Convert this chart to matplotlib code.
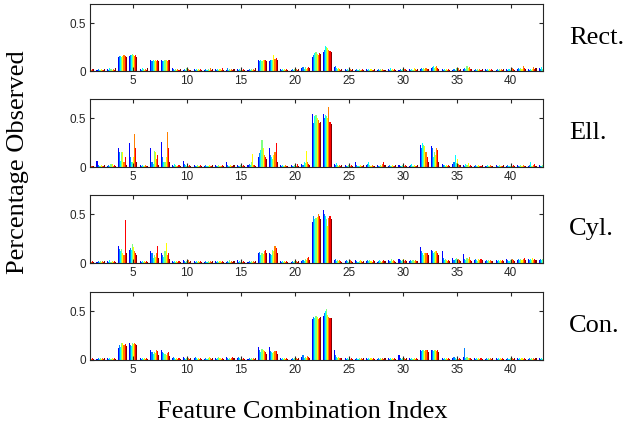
import numpy as np
import matplotlib
matplotlib.use('Agg')
import matplotlib.pyplot as plt

# Feature combination indices (1..43), 8 subjects per group
indices = list(range(1, 44))
shape_names = ['Rect.', 'Ell.', 'Cyl.', 'Con.']
xtick_vals = [5, 10, 15, 20, 25, 30, 35, 40]

# values in percent-hundredths (0.01 units), one row per feature combination index
rect = [
    [2, 1, 2, 1, 2, 1, 2, 2], [1, 2, 1, 1, 2, 1, 1, 2], [2, 1, 3, 2, 1, 2, 1, 3],
    [15, 16, 16, 15, 16, 17, 16, 15], [16, 17, 17, 18, 17, 16, 17, 15], [2, 1, 3, 2, 1, 2, 1, 3],
    [11, 10, 11, 10, 11, 10, 11, 10], [11, 10, 10, 11, 12, 10, 11, 12], [3, 2, 1, 2, 1, 2, 1, 2],
    [1, 2, 1, 3, 1, 2, 1, 1], [2, 1, 2, 1, 2, 1, 2, 1], [1, 2, 1, 2, 1, 3, 1, 2],
    [2, 1, 2, 1, 2, 1, 3, 1], [1, 3, 1, 2, 1, 2, 1, 2], [2, 1, 2, 1, 2, 1, 2, 1],
    [1, 2, 1, 2, 1, 2, 1, 3], [11, 10, 11, 10, 12, 11, 12, 10], [10, 11, 12, 11, 17, 13, 14, 12],
    [2, 1, 2, 1, 2, 1, 2, 1], [1, 2, 1, 2, 1, 2, 1, 2], [3, 4, 2, 4, 2, 3, 4, 3],
    [15, 17, 19, 20, 18, 17, 19, 18], [20, 22, 26, 25, 24, 22, 21, 20], [4, 5, 3, 2, 3, 2, 1, 2],
    [2, 1, 2, 1, 1, 2, 1, 2], [1, 2, 1, 2, 1, 1, 2, 1], [2, 1, 2, 1, 2, 1, 1, 2],
    [1, 2, 1, 2, 1, 2, 1, 1], [2, 1, 3, 1, 2, 1, 2, 1], [1, 2, 1, 2, 1, 2, 2, 1],
    [2, 1, 2, 1, 3, 2, 1, 2], [2, 3, 2, 3, 2, 3, 2, 2], [3, 4, 5, 3, 4, 5, 3, 2],
    [2, 1, 2, 1, 2, 1, 2, 1], [1, 2, 1, 3, 2, 3, 1, 2], [2, 3, 2, 5, 3, 4, 2, 2],
    [1, 2, 1, 2, 1, 2, 1, 2], [2, 1, 2, 1, 2, 1, 2, 1], [1, 2, 1, 2, 1, 2, 1, 2],
    [2, 1, 2, 1, 2, 3, 2, 1], [2, 3, 2, 3, 2, 5, 3, 2], [2, 1, 2, 1, 2, 4, 2, 3],
    [3, 2, 4, 2, 3, 2, 5, 3],
]
ell = [
    [1, 2, 1, 1, 2, 1, 1, 1], [6, 2, 1, 1, 2, 1, 1, 2], [1, 2, 1, 3, 3, 1, 2, 1],
    [20, 15, 6, 15, 15, 5, 10, 2], [25, 10, 5, 5, 10, 34, 20, 5], [2, 1, 2, 1, 1, 2, 1, 1],
    [20, 5, 3, 16, 15, 8, 12, 2], [26, 10, 5, 5, 10, 36, 20, 5], [2, 1, 3, 2, 1, 1, 2, 1],
    [6, 3, 2, 1, 2, 1, 2, 1], [2, 1, 1, 2, 1, 1, 2, 1], [1, 2, 1, 1, 2, 1, 1, 2],
    [2, 1, 1, 2, 1, 1, 2, 1], [5, 2, 1, 1, 2, 1, 1, 2], [2, 1, 1, 2, 3, 1, 2, 1],
    [2, 3, 2, 5, 13, 2, 2, 1], [10, 14, 18, 28, 20, 12, 10, 8], [20, 12, 10, 8, 12, 15, 25, 5],
    [2, 1, 2, 1, 1, 2, 1, 1], [2, 1, 1, 2, 1, 1, 3, 1], [3, 2, 5, 4, 16, 5, 3, 2],
    [55, 45, 52, 54, 50, 48, 45, 46], [55, 50, 54, 52, 50, 62, 46, 44], [3, 2, 4, 2, 1, 2, 1, 2],
    [2, 1, 1, 2, 1, 1, 2, 1], [5, 2, 1, 1, 2, 1, 1, 2], [2, 3, 5, 2, 1, 2, 1, 1],
    [2, 1, 1, 2, 1, 3, 5, 2], [1, 2, 1, 1, 2, 1, 1, 2], [2, 1, 1, 2, 3, 1, 2, 1],
    [1, 2, 3, 1, 2, 1, 1, 2], [23, 20, 25, 23, 22, 15, 10, 5], [22, 20, 10, 15, 12, 20, 18, 5],
    [3, 2, 2, 1, 2, 1, 2, 1], [3, 5, 12, 4, 8, 3, 2, 2], [2, 1, 3, 2, 4, 1, 2, 1],
    [1, 2, 1, 1, 2, 1, 1, 2], [1, 1, 2, 1, 1, 2, 1, 1], [2, 1, 1, 2, 1, 1, 1, 2],
    [1, 2, 1, 1, 3, 1, 2, 1], [2, 1, 1, 2, 1, 2, 1, 1], [1, 2, 5, 1, 1, 2, 3, 1],
    [2, 1, 1, 2, 1, 2, 1, 2],
]
cyl = [
    [2, 1, 2, 1, 2, 1, 2, 1], [1, 2, 1, 2, 1, 2, 1, 2], [2, 1, 3, 1, 2, 1, 2, 1],
    [17, 14, 12, 14, 10, 8, 44, 10], [13, 15, 13, 20, 16, 12, 10, 8], [2, 1, 2, 1, 2, 1, 2, 1],
    [12, 10, 5, 8, 6, 10, 17, 5], [10, 8, 6, 12, 21, 8, 10, 4], [2, 1, 2, 1, 2, 1, 2, 1],
    [3, 2, 1, 2, 1, 3, 1, 2], [2, 1, 2, 1, 2, 1, 2, 1], [1, 2, 1, 2, 1, 2, 1, 2],
    [2, 1, 2, 1, 2, 1, 2, 1], [1, 2, 1, 3, 1, 2, 1, 2], [3, 1, 2, 1, 2, 1, 2, 1],
    [1, 2, 1, 2, 1, 2, 1, 2], [10, 11, 8, 10, 9, 12, 13, 10], [10, 9, 8, 13, 12, 18, 15, 10],
    [2, 1, 2, 1, 2, 1, 2, 1], [1, 2, 1, 2, 1, 2, 1, 2], [2, 3, 2, 4, 3, 5, 6, 3],
    [42, 48, 45, 46, 47, 50, 48, 45], [55, 50, 48, 45, 38, 46, 48, 45], [3, 4, 2, 3, 2, 3, 2, 1],
    [2, 3, 2, 1, 2, 3, 2, 1], [3, 2, 1, 2, 3, 2, 1, 2], [2, 3, 2, 3, 2, 1, 3, 2],
    [1, 2, 3, 2, 1, 2, 3, 2], [3, 2, 2, 4, 2, 3, 2, 1], [4, 3, 2, 3, 4, 2, 3, 2],
    [2, 3, 2, 3, 2, 3, 2, 2], [16, 12, 10, 8, 10, 10, 10, 8], [13, 12, 10, 11, 12, 12, 10, 8],
    [12, 5, 3, 4, 3, 2, 3, 2], [5, 3, 4, 5, 3, 4, 3, 2], [9, 4, 3, 5, 4, 6, 3, 2],
    [3, 4, 3, 2, 4, 3, 4, 3], [2, 3, 2, 3, 2, 3, 2, 2], [3, 2, 3, 2, 3, 2, 3, 2],
    [4, 3, 2, 3, 2, 4, 3, 2], [3, 4, 3, 4, 3, 4, 5, 3], [4, 3, 4, 3, 5, 3, 4, 3],
    [3, 4, 3, 4, 3, 4, 3, 4],
]
con = [
    [2, 1, 2, 1, 2, 1, 2, 1], [1, 2, 1, 2, 1, 2, 1, 2], [2, 1, 2, 1, 2, 1, 2, 1],
    [12, 15, 13, 18, 17, 15, 16, 14], [17, 15, 14, 18, 16, 17, 16, 15], [2, 1, 2, 1, 2, 1, 2, 1],
    [10, 8, 6, 8, 7, 10, 9, 5], [10, 8, 7, 6, 5, 7, 8, 4], [2, 3, 2, 1, 2, 1, 2, 1],
    [3, 2, 1, 2, 3, 2, 1, 2], [2, 3, 2, 1, 2, 1, 2, 1], [1, 2, 1, 2, 3, 2, 1, 2],
    [2, 1, 2, 3, 2, 1, 2, 1], [3, 2, 1, 2, 1, 2, 3, 2], [2, 3, 2, 1, 2, 1, 2, 1],
    [1, 2, 1, 2, 1, 2, 1, 2], [13, 10, 8, 11, 10, 9, 8, 6], [13, 9, 8, 7, 8, 9, 9, 6],
    [2, 1, 2, 1, 2, 1, 2, 1], [1, 2, 1, 2, 1, 2, 1, 2], [3, 5, 2, 3, 2, 4, 3, 2],
    [42, 44, 43, 45, 44, 42, 43, 44], [45, 48, 50, 52, 46, 44, 43, 43], [10, 5, 3, 2, 3, 2, 2, 2],
    [2, 1, 2, 1, 2, 1, 2, 1], [1, 2, 1, 2, 1, 2, 1, 2], [2, 1, 2, 1, 2, 1, 2, 1],
    [1, 2, 1, 2, 1, 2, 1, 2], [2, 1, 2, 1, 2, 1, 2, 1], [5, 2, 1, 2, 1, 2, 1, 2],
    [2, 1, 2, 1, 2, 1, 2, 1], [10, 9, 10, 10, 9, 10, 10, 8], [10, 10, 9, 10, 10, 9, 10, 8],
    [2, 1, 2, 1, 2, 1, 2, 1], [2, 3, 2, 1, 2, 1, 2, 1], [3, 12, 2, 3, 2, 2, 2, 1],
    [2, 1, 2, 1, 2, 1, 2, 1], [1, 2, 1, 2, 1, 2, 1, 2], [2, 1, 2, 1, 2, 1, 2, 1],
    [1, 2, 1, 2, 1, 2, 1, 2], [2, 1, 2, 1, 2, 1, 2, 1], [1, 2, 1, 2, 1, 2, 1, 2],
    [2, 1, 2, 1, 2, 1, 2, 1],
]

# MATLAB jet(8)
colors = [(0, 0, 1), (0, .5, 1), (0, 1, 1), (.5, 1, .5),
          (1, 1, 0), (1, .5, 0), (1, 0, 0), (.5, 0, 0)]

fig = plt.figure(figsize=(6.43, 4.33), dpi=100)
W, H = 643, 433
panel_px = [(4, 71), (99, 167), (195, 263), (292, 360)]
left_px, right_px = 90, 543

n = len(colors)
bw = 0.8 / n
x = np.array(indices)

for (top, bot), name, data in zip(panel_px, shape_names, [rect, ell, cyl, con]):
    ax = fig.add_axes([left_px / W, 1 - bot / H, (right_px - left_px) / W, (bot - top) / H])
    vals = np.array(data) / 100.0
    for j in range(n):
        ax.bar(x - 0.4 + bw * (j + 0.5), vals[:, j], width=bw, color=colors[j],
               linewidth=0)
    ax.set_xlim(1, 43)
    ax.set_ylim(0, 0.7)
    ax.set_xticks(xtick_vals)
    ax.set_yticks([0, 0.5])
    ax.set_yticklabels(['0', '0.5'])
    ax.tick_params(direction='in', top=True, right=True, length=3, width=0.8,
                   labelsize=8.5, colors='#262626', pad=3)
    for lab in ax.get_xticklabels() + ax.get_yticklabels():
        lab.set_family('Liberation Sans')
    for s in ax.spines.values():
        s.set_color('#262626')
        s.set_linewidth(0.8)
    ax.text(1.058, 0.5, name, transform=ax.transAxes, ha='left', va='center',
            fontsize=19, family='Liberation Serif')

fig.text(18 / W, 1 - 162 / H, 'Percentage Observed', rotation=90, ha='center',
         va='center', fontsize=19, family='Liberation Serif')
fig.text(302 / W, 1 - 412 / H, 'Feature Combination Index', ha='center',
         va='center', fontsize=19, family='Liberation Serif')

fig.savefig('out.png', dpi=100)
